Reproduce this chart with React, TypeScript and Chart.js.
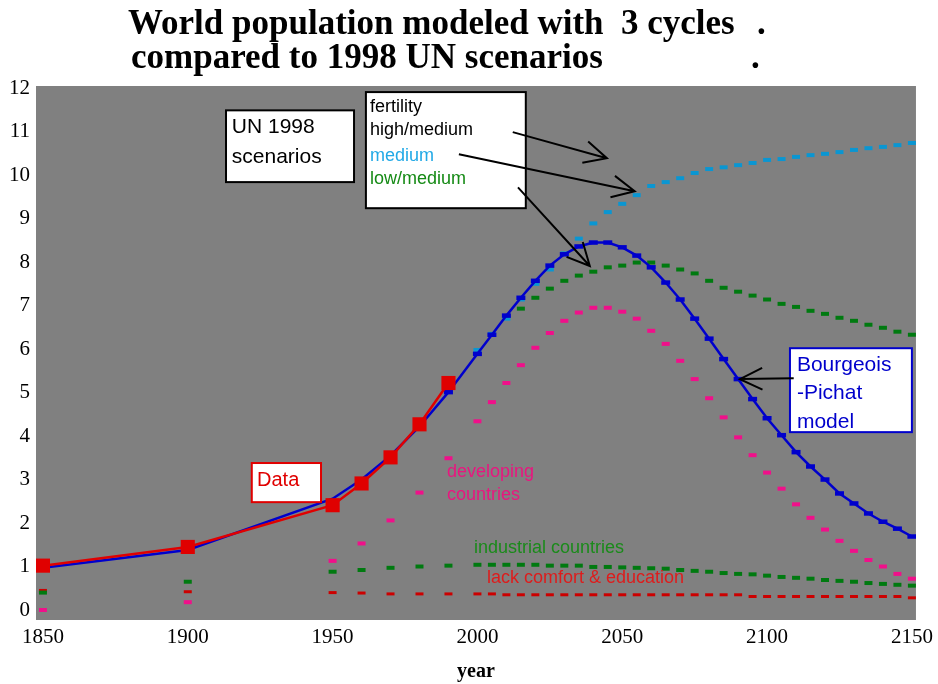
import React, { useEffect, useRef } from 'react';
import { Chart, registerables } from 'chart.js';

Chart.register(...registerables);

// ---------- data ----------
const histYears = [1850, 1900, 1950, 1960, 1970, 1980, 1990];
const projYears = [2000, 2005, 2010, 2015, 2020, 2025, 2030, 2035, 2040, 2045, 2050, 2055, 2060, 2065, 2070, 2075, 2080, 2085, 2090, 2095, 2100, 2105, 2110, 2115, 2120, 2125, 2130, 2135, 2140, 2145, 2150];

const observedValues = [1.02, 1.45, 2.41, 2.91, 3.51, 4.27, 5.22];

const modelHist = [0.97, 1.38, 2.56, 3.0, 3.55, 4.22, 5.01];
const modelProj = [5.89, 6.33, 6.77, 7.18, 7.57, 7.92, 8.18, 8.36, 8.45, 8.45, 8.34, 8.15, 7.88, 7.53, 7.14, 6.70, 6.24, 5.77, 5.31, 4.85, 4.41, 4.02, 3.63, 3.30, 3.00, 2.68, 2.45, 2.22, 2.03, 1.87, 1.69];

const mediumProj = [5.98, 6.35, 6.70, 7.14, 7.50, 7.83, 8.20, 8.54, 8.89, 9.15, 9.34, 9.54, 9.75, 9.84, 9.93, 10.05, 10.14, 10.18, 10.23, 10.28, 10.35, 10.37, 10.42, 10.46, 10.49, 10.53, 10.58, 10.62, 10.65, 10.69, 10.74];

const lowMediumProj = [null, null, null, 6.93, 7.18, 7.39, 7.57, 7.69, 7.78, 7.88, 7.92, 7.99, 7.99, 7.92, 7.83, 7.74, 7.57, 7.41, 7.32, 7.23, 7.14, 7.04, 6.97, 6.88, 6.81, 6.72, 6.65, 6.56, 6.49, 6.40, 6.33];

const developingHist = [0.0, 0.18, 1.13, 1.53, 2.06, 2.70, 3.49];
const developingProj = [4.34, 4.78, 5.22, 5.63, 6.03, 6.37, 6.65, 6.84, 6.95, 6.95, 6.86, 6.70, 6.42, 6.12, 5.73, 5.31, 4.87, 4.43, 3.97, 3.56, 3.16, 2.79, 2.43, 2.12, 1.85, 1.59, 1.36, 1.15, 1.0, 0.83, 0.72];

const industrialHist = [0.40, 0.65, 0.88, 0.92, 0.97, 1.0, 1.02];
const industrialProj = [1.04, 1.04, 1.04, 1.04, 1.04, 1.02, 1.02, 1.02, 0.99, 0.99, 0.98, 0.97, 0.96, 0.95, 0.92, 0.90, 0.88, 0.85, 0.83, 0.82, 0.79, 0.76, 0.74, 0.72, 0.69, 0.67, 0.65, 0.62, 0.60, 0.58, 0.56];

const lackHist = [0.45, 0.42, 0.40, 0.39, 0.37, 0.37, 0.37];
const lackProj = [0.37, 0.37, 0.35, 0.35, 0.35, 0.35, 0.35, 0.35, 0.35, 0.35, 0.35, 0.35, 0.35, 0.35, 0.35, 0.35, 0.35, 0.35, 0.35, 0.31, 0.31, 0.31, 0.31, 0.31, 0.31, 0.31, 0.31, 0.31, 0.31, 0.31, 0.28];

const xTickValues = [1850, 1900, 1950, 2000, 2050, 2100, 2150];
const yTickValues = [0, 1, 2, 3, 4, 5, 6, 7, 8, 9, 10, 11, 12];

const titleLines = ['World population modeled with  3 cycles', 'compared to 1998 UN scenarios'];
const axisTitle = 'year';

// ---------- styling / layout ----------
const X_MIN = 1847.6;
const X_MAX = 2151.4;
const Y_MIN = -0.23;
const Y_MAX = 12.05;

const SANS = '"Liberation Sans", Arial, sans-serif';
const SERIF = '"Liberation Serif", "Times New Roman", serif';

type Box = { x1: number; y1: number; x2: number; y2: number; stroke: string };
type Label = { text: string; x: number; y: number; color: string; size: number };
type Arrow = { x1: number; y1: number; x2: number; y2: number };

const boxes: Box[] = [
  { x1: 1913.2, y1: 11.49, x2: 1957.4, y2: 9.84, stroke: '#000000' },
  { x1: 1961.5, y1: 11.91, x2: 2016.7, y2: 9.24, stroke: '#000000' },
  { x1: 2107.9, y1: 6.02, x2: 2150.0, y2: 4.09, stroke: '#0000cc' },
  { x1: 1922.1, y1: 3.38, x2: 1946.0, y2: 2.48, stroke: '#e00000' },
];

const labels: Label[] = [
  { text: 'UN 1998', x: 1915.2, y: 11.1, color: '#000000', size: 21 },
  { text: 'scenarios', x: 1915.2, y: 10.41, color: '#000000', size: 21 },
  { text: 'fertility', x: 1962.9, y: 11.56, color: '#000000', size: 18 },
  { text: 'high/medium', x: 1962.9, y: 11.03, color: '#000000', size: 18 },
  { text: 'medium', x: 1962.9, y: 10.44, color: '#22a9e6', size: 18 },
  { text: 'low/medium', x: 1962.9, y: 9.91, color: '#158a15', size: 18 },
  { text: 'Bourgeois', x: 2110.3, y: 5.63, color: '#0000cc', size: 21 },
  { text: '-Pichat', x: 2110.3, y: 4.99, color: '#0000cc', size: 21 },
  { text: 'model', x: 2110.3, y: 4.32, color: '#0000cc', size: 21 },
  { text: 'Data', x: 1923.9, y: 2.97, color: '#e00000', size: 20 },
  { text: 'developing', x: 1989.5, y: 3.17, color: '#e8167f', size: 18 },
  { text: 'countries', x: 1989.5, y: 2.64, color: '#e8167f', size: 18 },
  { text: 'industrial countries', x: 1998.8, y: 1.43, color: '#1a8a1a', size: 18 },
  { text: 'lack comfort & education', x: 2003.3, y: 0.74, color: '#dd1c1c', size: 18 },
];

const arrows: Arrow[] = [
  { x1: 2012.2, y1: 10.99, x2: 2044.7, y2: 10.39 },
  { x1: 1993.6, y1: 10.48, x2: 2054.3, y2: 9.63 },
  { x1: 2014.0, y1: 9.72, x2: 2038.8, y2: 7.91 },
  { x1: 2109.2, y1: 5.33, x2: 2090.6, y2: 5.31 },
];

const pts = (xs: number[], ys: (number | null)[]) => xs.map((x, i) => ({ x, y: ys[i] }));

const annotPlugin = {
  id: 'annot',
  beforeDatasetsDraw(chart: any) {
    const { ctx, chartArea } = chart;
    ctx.save();
    ctx.fillStyle = '#808080';
    ctx.fillRect(chartArea.left, chartArea.top, chartArea.right - chartArea.left, chartArea.bottom - chartArea.top);
    ctx.restore();
  },
  afterDatasetsDraw(chart: any) {
    const { ctx } = chart;
    const xs = chart.scales.x;
    const ys = chart.scales.y;
    const px = (v: number) => xs.getPixelForValue(v);
    const py = (v: number) => ys.getPixelForValue(v);
    ctx.save();
    boxes.forEach((b) => {
      const x = px(b.x1), y = py(b.y1), w = px(b.x2) - x, h = py(b.y2) - y;
      ctx.fillStyle = '#ffffff';
      ctx.fillRect(x, y, w, h);
      ctx.strokeStyle = b.stroke;
      ctx.lineWidth = 2;
      ctx.strokeRect(x, y, w, h);
    });
    ctx.textBaseline = 'middle';
    ctx.textAlign = 'left';
    labels.forEach((l) => {
      ctx.font = `${l.size}px ${SANS}`;
      ctx.fillStyle = l.color;
      ctx.fillText(l.text, px(l.x), py(l.y));
    });
    ctx.strokeStyle = '#000000';
    ctx.lineWidth = 2;
    arrows.forEach((a) => {
      const x1 = px(a.x1), y1 = py(a.y1), x2 = px(a.x2), y2 = py(a.y2);
      const ang = Math.atan2(y2 - y1, x2 - x1);
      const len = 25;
      const spread = (26 * Math.PI) / 180;
      ctx.beginPath();
      ctx.moveTo(x1, y1);
      ctx.lineTo(x2, y2);
      ctx.moveTo(x2 - len * Math.cos(ang - spread), y2 - len * Math.sin(ang - spread));
      ctx.lineTo(x2, y2);
      ctx.lineTo(x2 - len * Math.cos(ang + spread), y2 - len * Math.sin(ang + spread));
      ctx.stroke();
    });
    ctx.restore();
  },
  afterDraw(chart: any) {
    const { ctx } = chart;
    ctx.save();
    ctx.fillStyle = '#000000';
    ctx.font = `bold 35px ${SERIF}`;
    ctx.textBaseline = 'alphabetic';
    ctx.textAlign = 'left';
    ctx.fillText(titleLines[0], 128, 34);
    ctx.fillText(titleLines[1], 131, 68);
    ctx.fillText('.', 757, 34);
    ctx.fillText('.', 751, 68);
    ctx.restore();
  },
};

const markerSet = (color: string) => ({
  showLine: false,
  pointStyle: 'line' as const,
  pointRadius: 4,
  pointBorderWidth: 4,
  pointBorderColor: color,
  pointBackgroundColor: color,
  borderColor: color,
  backgroundColor: color,
});

export default function App() {
  const ref = useRef<HTMLCanvasElement>(null);
  useEffect(() => {
    const allYears = [...histYears, ...projYears];
    const chart = new Chart(ref.current as HTMLCanvasElement, {
      type: 'line',
      data: {
        datasets: [
          {
            label: 'Data',
            data: pts(histYears, observedValues),
            borderColor: '#e00000',
            backgroundColor: '#e00000',
            borderWidth: 2.5,
            pointStyle: 'rect',
            pointRadius: 10,
            pointBorderWidth: 0,
            pointBackgroundColor: '#e00000',
            order: 0,
          },
          {
            label: 'Bourgeois-Pichat model',
            data: pts(allYears, [...modelHist, ...modelProj]),
            borderColor: '#0000cc',
            backgroundColor: '#0000cc',
            borderWidth: 2.5,
            pointStyle: 'line',
            pointRadius: (c: any) => (c.raw && c.raw.x >= 1990 ? 4.5 : 0),
            pointBorderWidth: 4.5,
            pointBorderColor: '#0000cc',
            order: 1,
          },
          { label: 'medium', data: pts(projYears, mediumProj), ...markerSet('#0a96d2'), order: 2 },
          { label: 'low/medium', data: pts(projYears, lowMediumProj), ...markerSet('#007a10'), order: 3 },
          { label: 'developing countries', data: pts(allYears, [...developingHist, ...developingProj]), ...markerSet('#f0108a'), order: 4 },
          { label: 'industrial countries', data: pts(allYears, [...industrialHist, ...industrialProj]), ...markerSet('#007a10'), order: 5 },
          { label: 'lack comfort & education', data: pts(allYears, [...lackHist, ...lackProj]), ...markerSet('#cc0000'), pointBorderWidth: 3, order: 6 },
        ] as any,
      },
      options: {
        responsive: true,
        maintainAspectRatio: false,
        animation: false,
        events: [],
        layout: { padding: { top: 86, right: 22, left: 0, bottom: 0 } },
        plugins: { legend: { display: false }, tooltip: { enabled: false }, title: { display: false } },
        scales: {
          x: {
            type: 'linear',
            min: X_MIN,
            max: X_MAX,
            grid: { display: false, drawTicks: false },
            border: { display: false },
            afterBuildTicks: (s: any) => {
              s.ticks = xTickValues.map((v) => ({ value: v }));
            },
            afterFit: (s: any) => {
              s.height = 64;
            },
            ticks: {
              color: '#000000',
              font: { family: SERIF, size: 21 },
              padding: 5,
              maxRotation: 0,
              autoSkip: false,
              callback: (v: any) => String(v),
            },
            title: {
              display: true,
              text: axisTitle,
              color: '#000000',
              font: { family: SERIF, size: 20, weight: 'bold' },
              padding: 0,
            },
          },
          y: {
            type: 'linear',
            min: Y_MIN,
            max: Y_MAX,
            grid: { display: false, drawTicks: false },
            border: { display: false },
            afterBuildTicks: (s: any) => {
              s.ticks = yTickValues.map((v) => ({ value: v }));
            },
            afterFit: (s: any) => {
              s.width = 36;
            },
            ticks: {
              color: '#000000',
              font: { family: SERIF, size: 21 },
              padding: 6,
              autoSkip: false,
              callback: (v: any) => String(v),
            },
          },
        },
      } as any,
      plugins: [annotPlugin],
    });
    return () => chart.destroy();
  }, []);
  return (
    <div style={{ position: 'fixed', left: 0, top: 0, width: 938, height: 684, background: '#ffffff' }}>
      <canvas ref={ref} />
    </div>
  );
}
